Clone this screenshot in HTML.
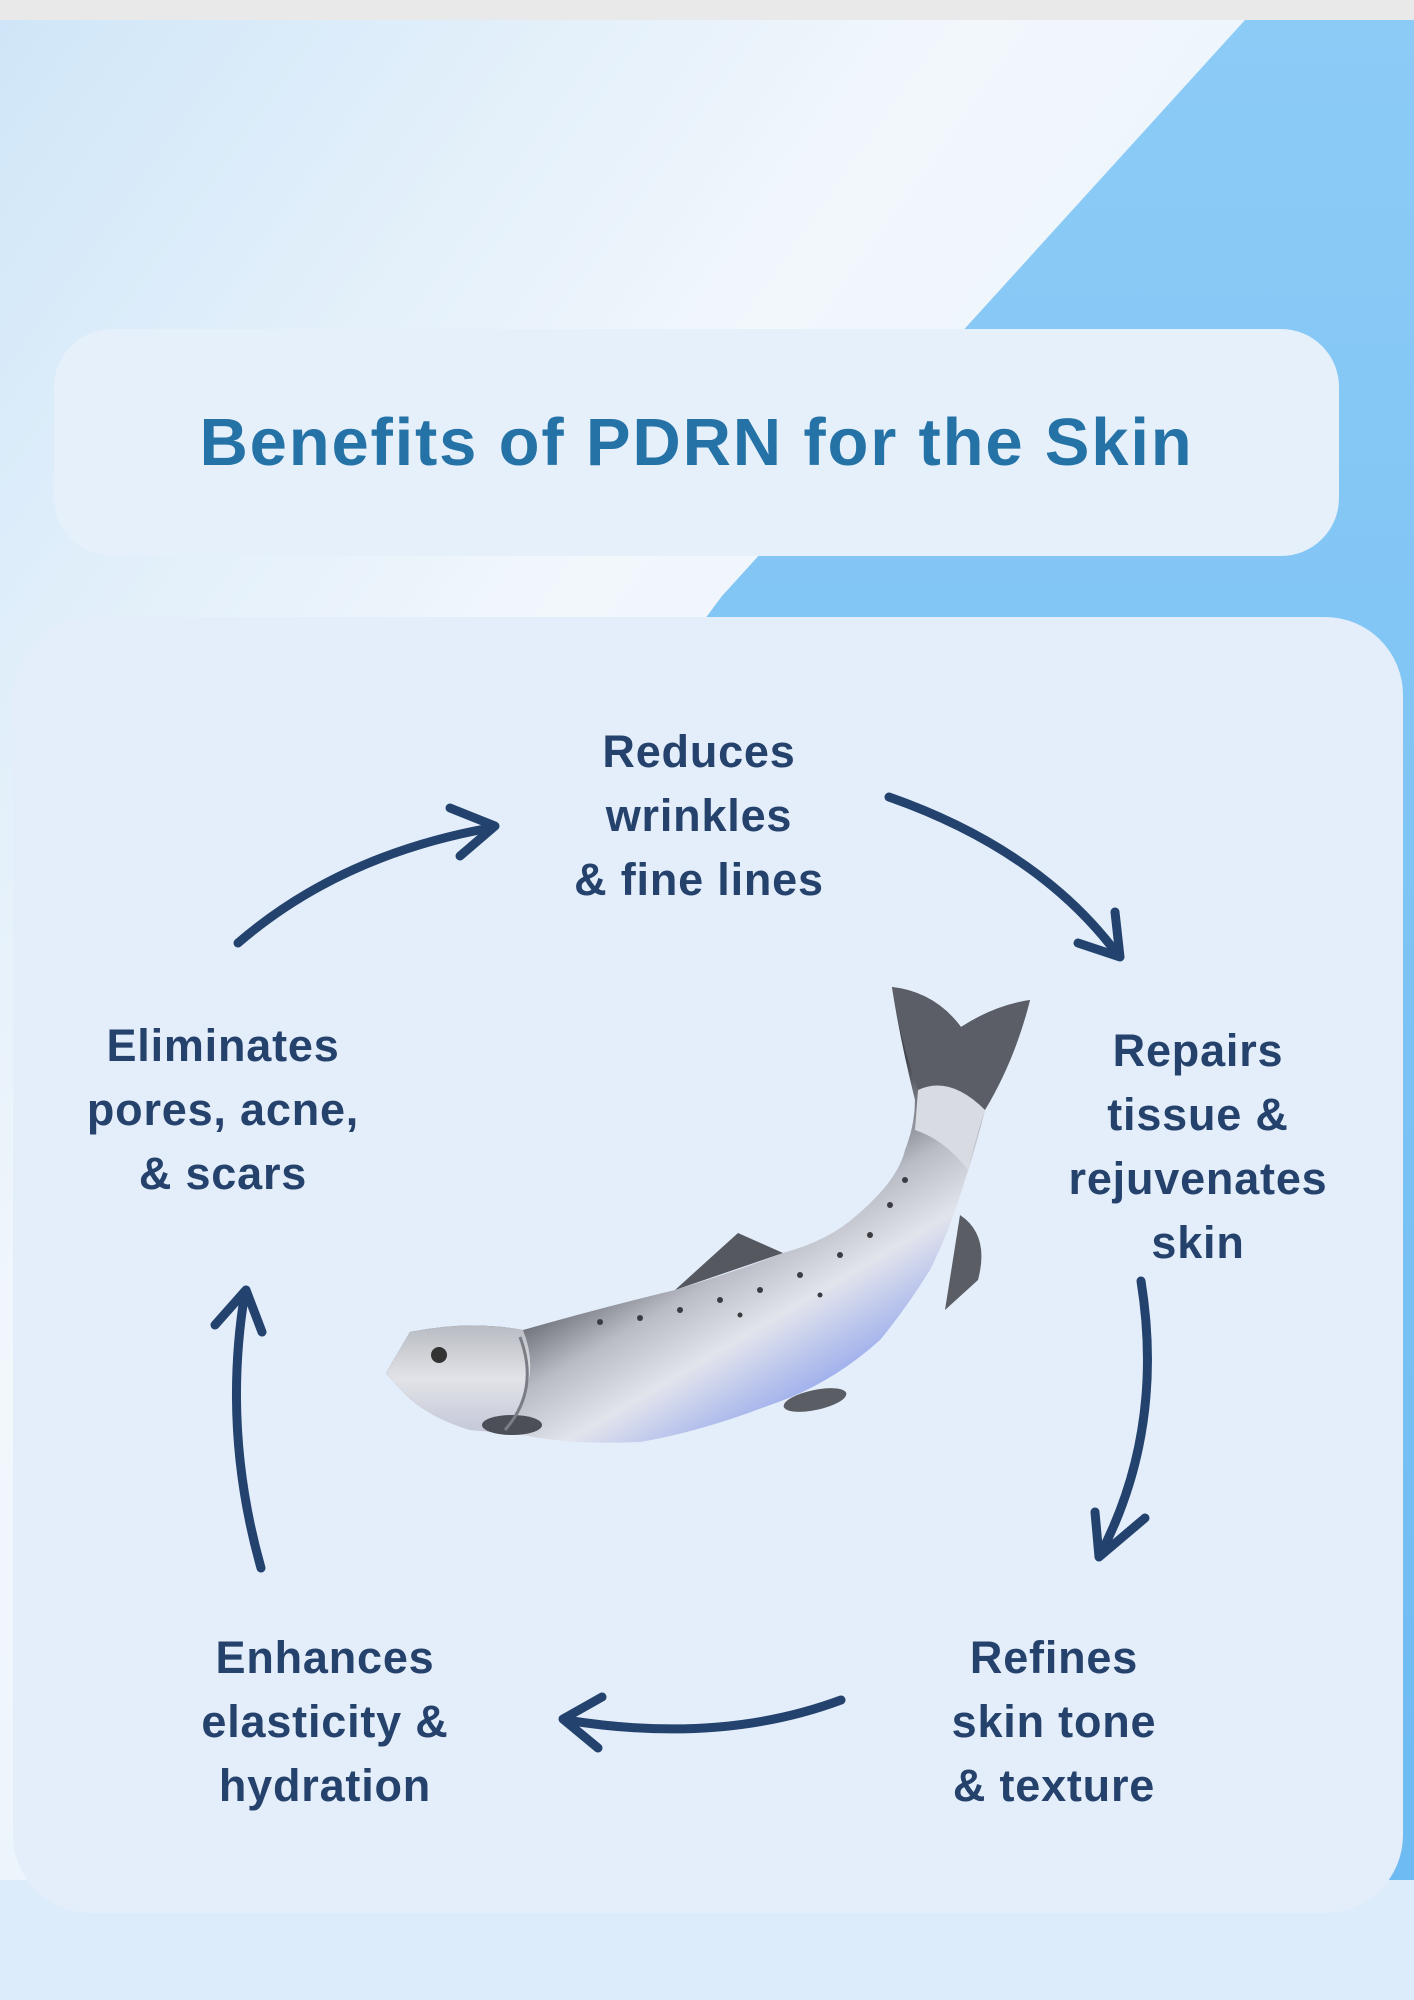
<!DOCTYPE html>
<html><head><meta charset="utf-8"><style>
html,body{margin:0;padding:0}
body{width:1414px;height:2000px;position:relative;overflow:hidden;font-family:"Liberation Sans",sans-serif;background:#d6e9f9}
.bg{position:absolute;left:0;top:0}
.title{position:absolute;left:54px;top:329px;width:1285px;height:227px;border-radius:58px;background:#e5f0fb;display:flex;align-items:center;justify-content:center;font-weight:bold;font-size:67px;color:#2572a6;letter-spacing:1.8px}
.panel{position:absolute;left:13px;top:617px;width:1390px;height:1296px;border-radius:78px;background:#e4eefa}
.lbl{position:absolute;font-weight:bold;font-size:45px;line-height:64px;color:#25426c;text-align:center;width:420px;letter-spacing:0.8px}
</style></head><body>
<svg class="bg" width="1414" height="2000">
<defs>
<linearGradient id="g1" x1="0" y1="0" x2="1" y2="1">
<stop offset="0" stop-color="#cfe6f8"/><stop offset="0.35" stop-color="#f2f7fc"/><stop offset="1" stop-color="#d7ebfb"/></linearGradient>
<linearGradient id="g2" x1="0" y1="0" x2="0" y2="1">
<stop offset="0" stop-color="#8ccbf6"/><stop offset="1" stop-color="#6bbaf2"/></linearGradient>
</defs>
<rect width="1414" height="2000" fill="url(#g1)"/>
<polygon points="1245,20 1414,20 1414,2000 1300,2000 600,760 722,596" fill="url(#g2)"/>
<rect x="0" y="1880" width="1414" height="120" fill="#dcecfa"/>
<rect x="0" y="0" width="1414" height="20" fill="#e9e9e9"/>
</svg>
<div class="title">Benefits of PDRN for the Skin</div>
<div class="panel"></div>
<svg class="bg" width="1414" height="2000">
<defs>
<linearGradient id="fb" gradientUnits="userSpaceOnUse" x1="690" y1="1190" x2="820" y2="1410">
<stop offset="0" stop-color="#44474e"/><stop offset="0.35" stop-color="#b9bcc4"/><stop offset="0.6" stop-color="#e2e4ec"/><stop offset="1" stop-color="#8fa3ec"/></linearGradient>
<linearGradient id="hd" x1="0" y1="0" x2="0" y2="1">
<stop offset="0" stop-color="#b8bbc2"/><stop offset="0.5" stop-color="#e2e3e8"/><stop offset="1" stop-color="#c4c8d8"/></linearGradient>
</defs>
<g fill="none" stroke="#23426d" stroke-width="9" stroke-linecap="round" stroke-linejoin="round">
<path d="M238,943 Q340,855 490,828"/><path d="M450,808 L495,826 L460,856"/>
<path d="M889,797 Q1040,850 1118,955"/><path d="M1078,943 L1120,957 L1115,912"/>
<path d="M1141,1281 Q1165,1430 1100,1555"/><path d="M1095,1512 L1099,1557 L1145,1518"/>
<path d="M841,1700 Q720,1745 566,1720"/><path d="M602,1697 L563,1719 L598,1748"/>
<path d="M261,1568 Q222,1430 245,1292"/><path d="M215,1325 L246,1290 L262,1332"/>
</g>
<path d="M675,1290 L738,1233 L783,1253 Z" fill="#55585f"/>
<path d="M960,1215 Q990,1235 978,1280 L945,1310 Z" fill="#5a5d64"/>
<path d="M386,1373 L410,1332 Q470,1320 523,1330 Q600,1308 675,1290 Q740,1270 783,1253 Q830,1240 857,1215 Q898,1180 905,1150 Q915,1125 915,1100 Q900,1040 892,987 Q935,992 961,1027 Q995,1005 1030,1000 Q1015,1060 985,1110 Q975,1150 965,1180 Q950,1230 930,1270 Q905,1310 880,1340 Q830,1385 770,1405 Q700,1432 640,1442 Q570,1445 523,1435 L470,1430 Q430,1418 406,1395 Z" fill="url(#fb)"/>
<path d="M386,1373 L410,1332 Q470,1320 523,1330 Q545,1385 500,1432 L470,1430 Q430,1418 406,1395 Z" fill="url(#hd)"/>
<path d="M892,987 Q935,992 961,1027 Q995,1005 1030,1000 Q1015,1060 985,1110 Q950,1085 918,1090 Q900,1040 892,987 Z" fill="#5b5e66"/>
<path d="M918,1090 Q950,1075 985,1110 Q975,1140 968,1170 Q945,1140 915,1130 Z" fill="#d9dbe2"/>
<ellipse cx="512" cy="1425" rx="30" ry="10" fill="#4c4f57"/>
<ellipse cx="815" cy="1400" rx="32" ry="10" fill="#5a5d64" transform="rotate(-12 815 1400)"/>
<circle cx="439" cy="1355" r="8" fill="#333"/>
<path d="M520,1337 Q540,1390 505,1430" fill="none" stroke="#7a7d85" stroke-width="3"/>
<g fill="#3a3c42">
<circle cx="600" cy="1322" r="3"/><circle cx="640" cy="1318" r="3"/><circle cx="680" cy="1310" r="3"/><circle cx="720" cy="1300" r="3"/><circle cx="760" cy="1290" r="3"/><circle cx="800" cy="1275" r="3"/><circle cx="840" cy="1255" r="3"/><circle cx="870" cy="1235" r="3"/><circle cx="890" cy="1205" r="3"/><circle cx="905" cy="1180" r="3"/><circle cx="740" cy="1315" r="2.5"/><circle cx="820" cy="1295" r="2.5"/>
</g>
</svg>
<div class="lbl" style="left:489px;top:720px">Reduces<br>wrinkles<br>&amp; fine lines</div>
<div class="lbl" style="left:988px;top:1019px">Repairs<br>tissue &amp;<br>rejuvenates<br>skin</div>
<div class="lbl" style="left:844px;top:1626px">Refines<br>skin tone<br>&amp; texture</div>
<div class="lbl" style="left:115px;top:1626px">Enhances<br>elasticity &amp;<br>hydration</div>
<div class="lbl" style="left:13px;top:1014px">Eliminates<br>pores, acne,<br>&amp; scars</div>
</body></html>
